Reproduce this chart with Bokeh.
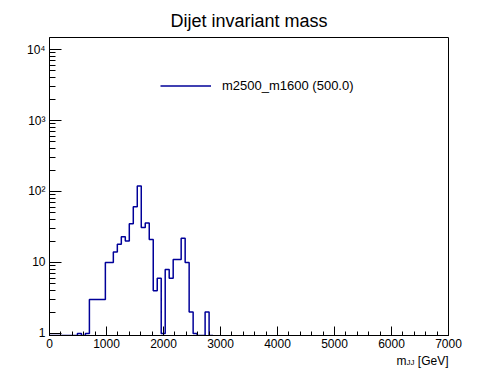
import numpy as np
from bokeh.plotting import figure
from bokeh.models import (Range1d, FixedTicker, CustomJSTickFormatter, Label,
                          Legend, LegendItem)
from bokeh.embed import file_html
from bokeh.resources import INLINE

# ---------------- data ----------------
bin_width = 70.0
bin_low_edges = [0, 70, 140, 210, 280, 350, 420, 490, 560, 630, 700, 770, 840, 910,
                 980, 1050, 1120, 1190, 1260, 1330, 1400, 1470, 1540, 1610, 1680,
                 1750, 1820, 1890, 1960, 2030, 2100, 2170, 2240, 2310, 2380, 2450,
                 2520, 2590, 2660, 2730, 2800]
counts = [0, 0, 0, 0, 0, 0, 0, 1, 0, 1, 3, 3, 3, 3,
          10, 10, 14, 18, 23, 20, 35, 61, 120, 31, 36,
          21, 4, 6, 1, 8, 6, 11, 11, 22, 10, 2,
          1, 0, 0, 2, 0]
x_major_ticks = [0, 1000, 2000, 3000, 4000, 5000, 6000, 7000]
x_tick_labels = ["0", "1000", "2000", "3000", "4000", "5000", "6000", "7000"]
y_major_ticks = [1, 10, 100, 1000, 10000]
y_tick_labels = ["1", "10", "10\u00b2", "10\u00b3", "10\u2074"]
title_text = "Dijet invariant mass"
legend_label = "m2500_m1600 (500.0)"
x_title_main = "m"
x_title_sub = "JJ"
x_title_unit = "[GeV]"
x_lo, x_hi = 0, 7000
y_lo, y_hi = 0.937, 14760

# ---------------- layout ----------------
W, H = 490, 370
BL, BR, BT, BB = 49, 42, 37, 35
FW, FH = W - BL - BR, H - BT - BB
FONT = "Liberation Sans"
LINE = "#000099"
LBL = "12px"

p = figure(width=W, height=H, output_backend="svg", toolbar_location=None,
           y_axis_type="log", title_location=None,
           x_range=Range1d(x_lo, x_hi), y_range=Range1d(y_lo, y_hi),
           min_border_left=BL, min_border_right=BR,
           min_border_top=BT, min_border_bottom=BB)
p.background_fill_color = "white"
p.border_fill_color = "white"
p.outline_line_color = "black"
p.outline_line_width = 1
p.xgrid.visible = False
p.ygrid.visible = False

# histogram (zero bins drawn on the frame bottom, as ROOT does in log scale)
edges = np.array(bin_low_edges + [bin_low_edges[-1] + bin_width], dtype=float)
vals = np.array(counts, dtype=float)
vals = np.where(vals > 0, vals, y_lo)
vals = np.append(vals, vals[-1])
r = p.step(x=edges, y=vals, mode="after", line_color=LINE, line_width=1.5)

# axes
xa = p.xaxis[0]
xa.ticker = FixedTicker(ticks=x_major_ticks,
                        minor_ticks=list(range(x_lo, x_hi + 1, 200)))
xa.major_label_overrides = {t: s for t, s in zip(x_major_ticks, x_tick_labels)}
xa.major_tick_in, xa.major_tick_out = 9, 0
xa.minor_tick_in, xa.minor_tick_out = 4, 0
xa.major_label_standoff = 3

ya = p.yaxis[0]
ya.ticker = FixedTicker(ticks=y_major_ticks,
                        minor_ticks=[m * 10 ** e for e in range(0, 5) for m in range(2, 10)])
ya.formatter = CustomJSTickFormatter(args=dict(vals=y_major_ticks, labs=y_tick_labels), code="""
for (let i = 0; i < vals.length; i++) {
  if (Math.abs(tick - vals[i]) < 1e-6 * vals[i]) return labs[i];
}
return "";
""")
ya.major_tick_in, ya.major_tick_out = 12, 0
ya.minor_tick_in, ya.minor_tick_out = 6, 0
ya.major_label_standoff = 4

for ax in (xa, ya):
    ax.axis_line_color = "black"
    ax.major_tick_line_color = "black"
    ax.minor_tick_line_color = "black"
    ax.major_label_text_font = FONT
    ax.major_label_text_font_size = LBL
    ax.major_label_text_color = "black"

# title (side panel so it is not clipped to the frame)
p.add_layout(Label(x=FW / 2, y=17, x_units="screen", y_units="screen",
                   text=title_text, text_align="center", text_baseline="alphabetic",
                   text_font=FONT, text_font_size="18px", text_color="black"), "above")

# x-axis title  m_{JJ} [GeV], right-aligned under the frame (side panels: not clipped)
p.add_layout(Label(x=x_hi, y=y_lo, x_offset=0, y_offset=-25,
                   text=x_title_unit, text_align="right", text_baseline="alphabetic",
                   text_font=FONT, text_font_size=LBL, text_color="black"), "right")
p.add_layout(Label(x=x_hi, y=y_lo, x_offset=-34, y_offset=-27,
                   text=x_title_sub, text_align="right", text_baseline="alphabetic",
                   text_font=FONT, text_font_size="8px", text_color="black"), "below")
p.add_layout(Label(x=x_hi, y=y_lo, x_offset=-42, y_offset=-25,
                   text=x_title_main, text_align="right", text_baseline="alphabetic",
                   text_font=FONT, text_font_size=LBL, text_color="black"), "left")

# legend
legend = Legend(items=[LegendItem(label=legend_label, renderers=[r])],
                location=(111, 242), border_line_alpha=0, background_fill_alpha=0,
                padding=0, margin=0, spacing=0, glyph_width=51, glyph_height=13,
                label_height=13, label_standoff=11,
                label_text_font=FONT, label_text_font_size="13px",
                label_text_color="black")
p.add_layout(legend)

open("out.html", "w").write(file_html(p, INLINE))
